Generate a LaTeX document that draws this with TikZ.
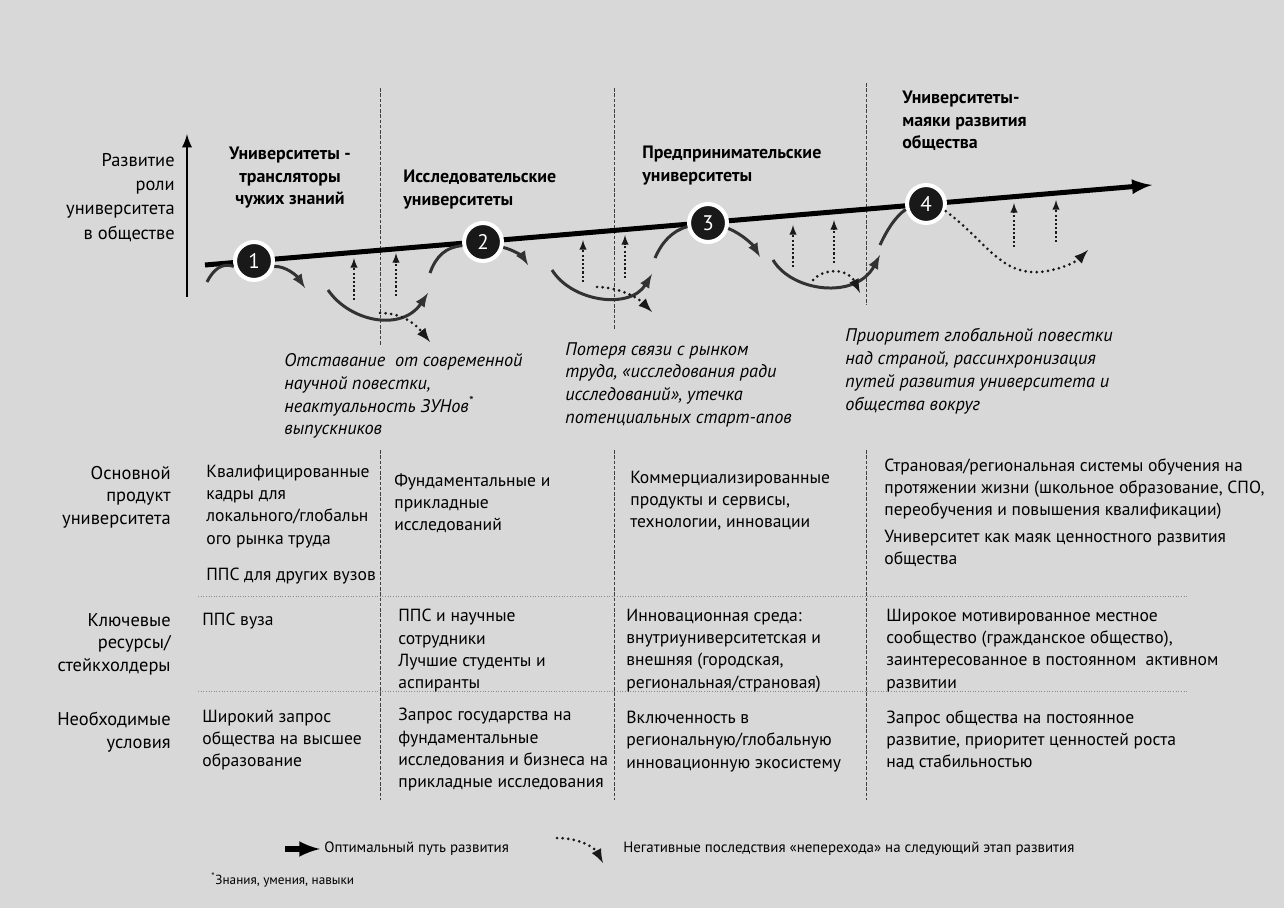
\documentclass[tikz,border=0pt]{standalone}
\usepackage{fontspec}
\setmainfont{PT Sans}
\definecolor{bgcol}{RGB}{216,216,216}
\definecolor{wavecol}{RGB}{50,50,50}
\begin{document}
\begin{tikzpicture}[x=0.02cm,y=-0.02cm,>=latex,
  wave/.style={line width=1.7pt, wavecol},
  neg/.style={line width=1.7pt, dash pattern=on 0pt off 3.2pt, line cap=round, black!90},
  up/.style={line width=0.9pt, dash pattern=on 1.2pt off 1.2pt, ->, black!90},
  sep/.style={line width=0.4pt, dash pattern=on 2pt off 1pt, black!75},
  rowsep/.style={line width=0.4pt, dash pattern=on 0.5pt off 1pt, black!45},
  num/.style={circle, fill=black!90, draw=white, line width=2.3pt, minimum size=21.6pt, inner sep=0, text=white, font=\fontsize{12}{12}\selectfont},
  head/.style={inner sep=0, font=\bfseries\fontsize{10.2}{12.8}\selectfont},
  cell/.style={inner sep=0, anchor=north west, align=left, font=\fontsize{10}{12.6}\selectfont},
  rowlbl/.style={inner sep=0, anchor=north east, align=right, font=\fontsize{10.5}{12.8}\selectfont},
  note/.style={inner sep=0, anchor=north west, align=left, font=\itshape\fontsize{10.4}{13}\selectfont}]
\fill[bgcol] (0,0) rectangle (1284,908);
% separators
\foreach \x/\a/\b in {380/88/345, 614/88/330, 866/83/305}
  \draw[sep] (\x,\a) -- (\x,\b) (\x,450) -- (\x,800);
\draw[rowsep] (198,596) -- (1188,596) (198,691) -- (1188,691);
% axis
\draw[line width=1.6pt,->] (187,297) -- (187,134);
\node[rowlbl, font=\fontsize{10.5}{13.8}\selectfont] (axis) at (175,153) {Развитие\\роли\\университета\\в обществе};
% stage titles
\node[head, anchor=north, align=center] (h1) at (290,147) {Университеты -\\трансляторы\\чужих знаний};
\node[head, anchor=north west, align=left] (h2) at (403,170) {Исследовательские\\университеты};
\node[head, anchor=north west, align=left] (h3) at (642,146) {Предпринимательские\\университеты};
\node[head, anchor=north west, align=left] (h4) at (902,91) {Университеты-\\маяки развития\\общества};
% main line
\coordinate (s) at (205,265);
\coordinate (e) at (1152,185);
\draw[line width=2.85pt,->] (s) -- (e);
\node[num] (c1) at (254,261) {1};
\node[num] (c2) at (483,242) {2};
\node[num] (c3) at (708,223) {3};
\node[num] (c4) at (926,204) {4};
% waves
\draw[wave] (207,282) .. controls (213,270) and (222,262) .. (c1.195);
\draw[wave,->] (c1.-15) .. controls (286,266) and (297,276) .. (305,288);
\draw[wave,->] (328,290) .. controls (350,322) and (402,332) .. (428,293);
\draw[wave] (430,273) .. controls (436,256) and (446,247) .. (c2.190);
\draw[wave,->] (c2.-15) .. controls (514,250) and (523,257) .. (528,265);
\draw[wave,->] (552,270) .. controls (572,302) and (630,310) .. (652,274);
\draw[wave] (655,258) .. controls (662,242) and (672,231) .. (c3.190);
\draw[wave,->] (c3.-15) .. controls (742,234) and (753,245) .. (760,257);
\draw[wave,->] (773,260) .. controls (792,292) and (856,300) .. (880,255);
\draw[wave] (880,245) .. controls (887,230) and (895,217) .. (c4.195);
\foreach \x/\a/\b in {354/300/258, 396/296/253, 583/282/240, 625/278/235, 793/267/225, 834/263/220, 1014/247/203, 1056/242/200}
  \draw[up] (\x,\a) -- (\x,\b);
\draw[neg,->] (380,313) .. controls (400,313) and (414,322) .. (430,342);
\draw[neg,->] (597,287) .. controls (616,287) and (636,296) .. (652,312);
\draw[neg,->] (813,280) .. controls (824,268) and (848,268) .. (860,293);
\draw[neg,->] (c4.-20) .. controls (985,240) and (1000,275) .. (1040,272) .. controls (1060,270) and (1076,262) .. (1088,250);
% risks
\node[note] (r1) at (284,353) {Отставание \ от современной\\научной повестки,\\неактуальность ЗУНов\textsuperscript{*}\\выпускников};
\node[note] (r2) at (565,342) {Потеря связи с рынком\\труда, «исследования ради\\исследований», утечка\\потенциальных старт-апов};
\node[note] (r3) at (845,328) {Приоритет глобальной повестки\\над страной, рассинхронизация\\путей развития университета и\\общества вокруг};
% rows
\node[rowlbl] (l1) at (171,466) {Основной\\продукт\\университета};
\node[rowlbl] (l2) at (171,613) {Ключевые\\ресурсы/\\стейкхолдеры};
\node[rowlbl] (l3) at (171,712) {Необходимые\\условия};
\node[cell] (p1) at (206,465) {Квалифицированные\\кадры для\\локального/глобальн\\ого рынка труда\\[8pt]ППС для других вузов};
\node[cell] (p2) at (394,473) {Фундаментальные и\\прикладные\\исследований};
\node[cell] (p3) at (630,471) {Коммерциализированные\\продукты и сервисы,\\технологии, инновации};
\node[cell] (p4) at (884,458) {Страновая/региональная системы обучения на\\протяжении жизни (школьное образование, СПО,\\переобучения и повышения квалификации)\\[3pt]Университет как маяк ценностного развития\\общества};
\node[cell] (k1) at (202,613) {ППС вуза};
\node[cell] (k2) at (398,609) {ППС и научные\\сотрудники\\Лучшие студенты и\\аспиранты};
\node[cell] (k3) at (626,609) {Инновационная среда:\\внутриуниверситетская и\\внешняя (городская,\\региональная/страновая)};
\node[cell] (k4) at (886,609) {Широкое мотивированное местное\\сообщество (гражданское общество),\\заинтересованное в постоянном \ активном\\развитии};
\node[cell] (u1) at (202,710) {Широкий запрос\\общества на высшее\\образование};
\node[cell] (u2) at (398,708) {Запрос государства на\\фундаментальные\\исследования и бизнеса на\\прикладные исследования};
\node[cell] (u3) at (626,711) {Включенность в\\региональную/глобальную\\инновационную экосистему};
\node[cell] (u4) at (886,710) {Запрос общества на постоянное\\развитие, приоритет ценностей роста\\над стабильностью};
% legend
\coordinate (la) at (285,849);
\coordinate (lb) at (320,849);
\draw[line width=3pt,->] (la) -- (lb);
\node[inner sep=0, anchor=west, font=\fontsize{8.5}{10}\selectfont] (opt) at (324,849) {Оптимальный путь развития};
\coordinate (da) at (557,838);
\coordinate (db) at (603,863);
\draw[neg,->] (da) .. controls (580,838) and (595,848) .. (db);
\node[inner sep=0, anchor=west, font=\fontsize{8.5}{10}\selectfont] (negl) at (623,849) {Негативные последствия «неперехода» на следующий этап развития};
\node[inner sep=0, anchor=west, font=\fontsize{7.5}{9}\selectfont] (fn) at (211,880) {\textsuperscript{*}Знания, умения, навыки};
\end{tikzpicture}
\end{document}
